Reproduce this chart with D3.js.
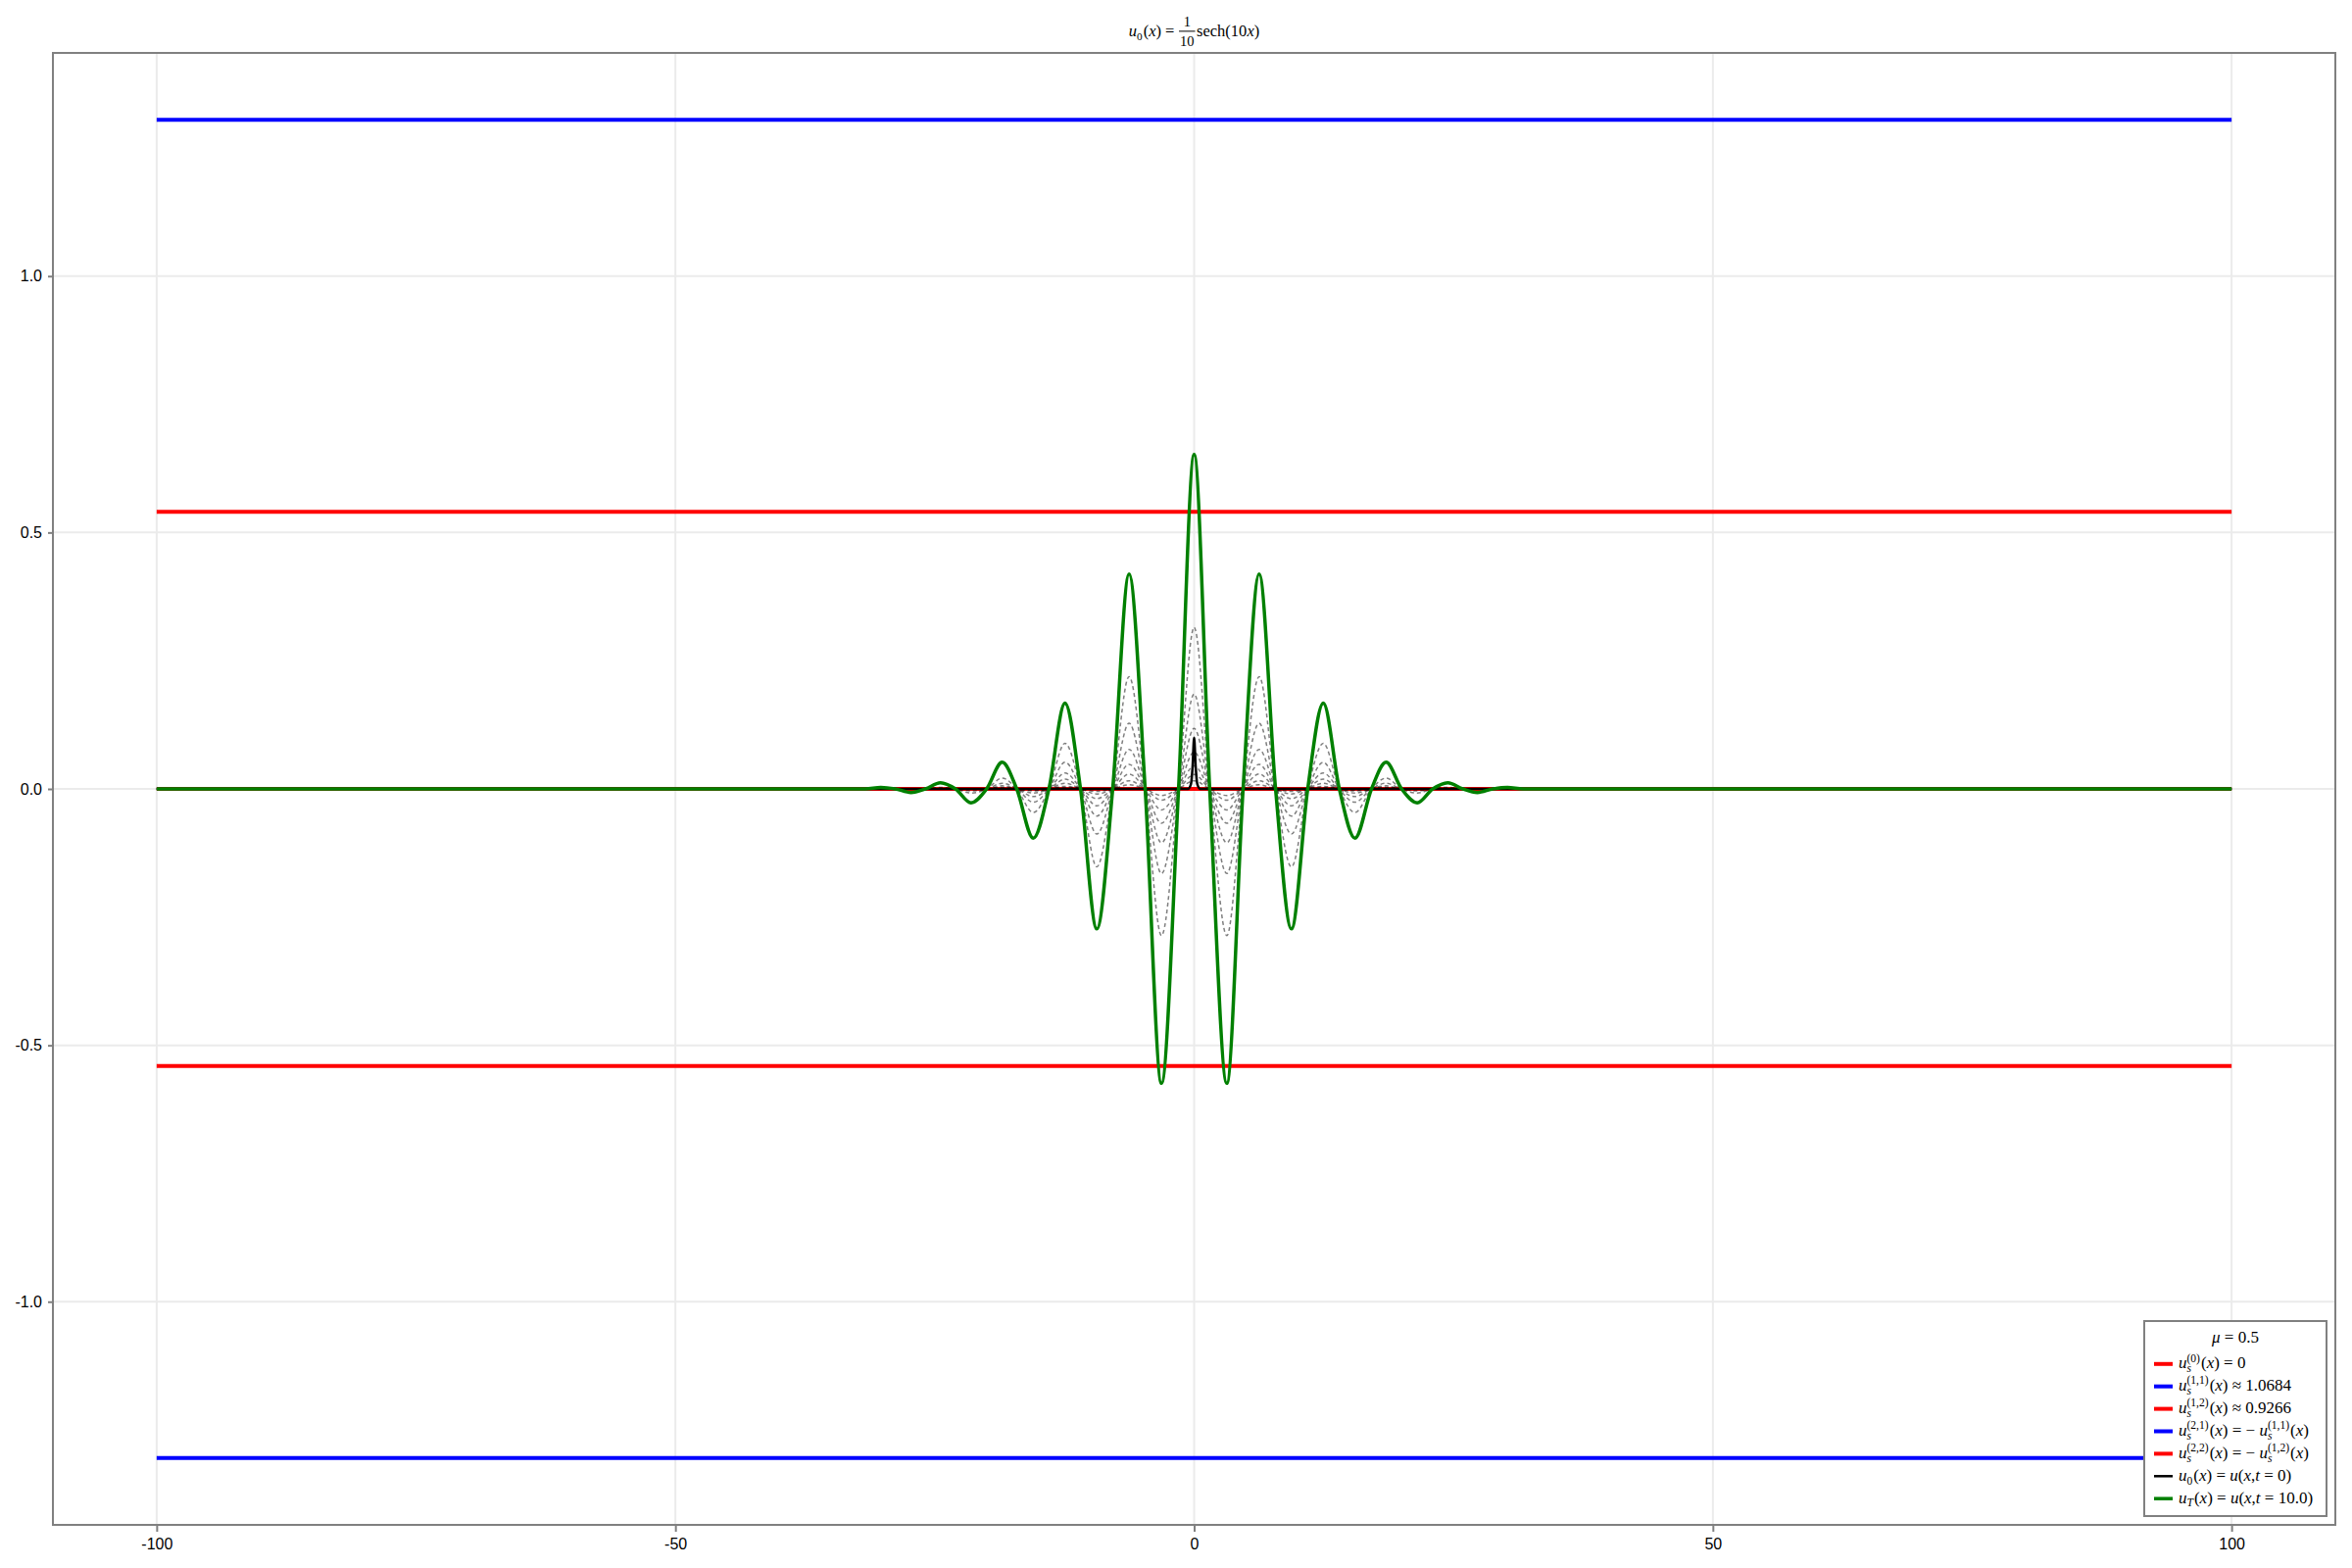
<!DOCTYPE html>
<html>
<head>
<meta charset="utf-8">
<script src="https://cdn.jsdelivr.net/npm/d3@7"></script>
<style>
  body { margin: 0; background: #fff; }
  svg { display: block; }
  .tick text { font-family: "Liberation Sans", Arial, sans-serif; font-size: 16px; fill: #000; }
  text { white-space: pre; }
</style>
</head>
<body>
<div id="chart"></div>
<script>
/// DATA (profiles are symmetric about x = 0) ///
// x of the extrema, centre outwards
const lobeX = [0, 3.15, 6.27, 9.38, 12.45, 15.5, 18.5, 21.5, 24.45, 27.3, 30.2];
// x of the zero crossings, centre outwards
const nodeX = [1.5, 4.72, 7.85, 10.95, 14.0, 17.1, 20.0, 23.0, 25.9, 28.8, 31.7];
const tailX = [33, 100];

// u_T(x) = u(x, t = 10) at the extrema
const uTProfile = [0.652, -0.574, 0.419, -0.273, 0.167, -0.096, 0.052, -0.027, 0.012, -0.007, 0.003];

// intermediate snapshots (grey dashed), largest first
const snap9 = [0.315, -0.286, 0.219, -0.152, 0.089, -0.046, 0.021, -0.008, 0.003, 0, 0];
const snap8 = [0.185, -0.165, 0.128, -0.088, 0.052, -0.026, 0.011, -0.004, 0, 0, 0];
const snap7 = [0.118, -0.105, 0.077, -0.053, 0.031, -0.015, 0.006, 0, 0, 0, 0];
const snap6 = [0.072, -0.067, 0.048, -0.033, 0.019, -0.008, 0.003, 0, 0, 0, 0];
const snap5 = [0.045, -0.041, 0.029, -0.019, 0.011, -0.004, 0, 0, 0, 0, 0];
const snap4 = [0.028, -0.022, 0.016, -0.010, 0.005, -0.002, 0, 0, 0, 0, 0];
const snap3 = [0.016, -0.013, 0.008, -0.005, 0.002, 0, 0, 0, 0, 0, 0];

// initial condition u0(x), narrow spike
const u0X = [-100, -0.6, -0.3, -0.15, 0, 0.15, 0.3, 0.6, 100];
const u0Y = [0, 0, 0.01, 0.043, 0.1, 0.043, 0.01, 0, 0];

// stationary solutions (horizontal lines)
const steadyLevels = [0, 1.3047, 0.5405, -1.3047, -0.5405];
const steadyColors = ["red", "blue", "red", "blue", "red"];
const lineRange = [-100, 100];

const xTicks = [-100, -50, 0, 50, 100];
const yTicks = [-1.0, -0.5, 0.0, 0.5, 1.0];

const W = 2400, H = 1600;
const margin = { left: 54, top: 54, right: 17, bottom: 44 };
const serif = '"Liberation Serif", "DejaVu Serif", serif';

// build a symmetric series from a centre-outwards profile
function buildSeries(profile) {
  const right = [];
  lobeX.forEach((x, i) => {
    right.push([x, profile[i]]);
    right.push([nodeX[i], 0]);
  });
  tailX.forEach((x) => right.push([x, 0]));
  const left = right.filter((d) => d[0] > 0).map((d) => [-d[0], d[1]]).reverse();
  return left.concat(right);
}

const svg = d3.select("#chart").append("svg").attr("width", W).attr("height", H);

const x = d3.scaleLinear().domain([-110, 110]).range([margin.left, W - margin.right]);
const y = d3.scaleLinear().domain([-1.4352, 1.4352]).range([H - margin.bottom, margin.top]);

const line = d3.line().x((d) => x(d[0])).y((d) => y(d[1])).curve(d3.curveMonotoneX);

// grid
const grid = svg.append("g").attr("stroke", "#ebebeb").attr("stroke-width", 2);
grid.selectAll(".gx").data(xTicks).enter().append("line")
  .attr("x1", (d) => x(d)).attr("x2", (d) => x(d))
  .attr("y1", margin.top).attr("y2", H - margin.bottom);
grid.selectAll(".gy").data(yTicks).enter().append("line")
  .attr("x1", margin.left).attr("x2", W - margin.right)
  .attr("y1", (d) => y(d)).attr("y2", (d) => y(d));

// horizontal stationary lines
svg.selectAll(".steady").data(steadyLevels).enter().append("path")
  .attr("class", "steady")
  .attr("d", (d) => line(lineRange.map((v) => [v, d])))
  .attr("fill", "none")
  .attr("stroke", (d, i) => steadyColors[i])
  .attr("stroke-width", 4);

// dashed intermediate snapshots
const snapshots = [snap3, snap4, snap5, snap6, snap7, snap8, snap9];
svg.selectAll(".snap").data(snapshots).enter().append("path")
  .attr("class", "snap")
  .attr("d", (d) => line(buildSeries(d)))
  .attr("fill", "none")
  .attr("stroke", "rgba(0,0,0,0.5)")
  .attr("stroke-width", 1.5)
  .attr("stroke-dasharray", "4,3");

// u0
svg.append("path")
  .attr("d", line(u0X.map((v, i) => [v, u0Y[i]])))
  .attr("fill", "none").attr("stroke", "black").attr("stroke-width", 2.5);

// uT
svg.append("path")
  .attr("d", line(buildSeries(uTProfile)))
  .attr("fill", "none").attr("stroke", "green").attr("stroke-width", 3.5);

// axes
const xAxis = svg.append("g")
  .attr("transform", `translate(0,${H - margin.bottom})`)
  .call(d3.axisBottom(x).tickValues(xTicks).tickSize(7).tickPadding(7).tickFormat((d) => String(d)));
const yAxis = svg.append("g")
  .attr("transform", `translate(${margin.left},0)`)
  .call(d3.axisLeft(y).tickValues(yTicks).tickSize(5).tickPadding(6).tickFormat((d) => d.toFixed(1)));
[xAxis, yAxis].forEach((a) => {
  a.select(".domain").remove();
  a.selectAll(".tick line").attr("stroke", "#808080").attr("stroke-width", 2);
});

// frame
svg.append("rect")
  .attr("x", margin.left).attr("y", margin.top)
  .attr("width", W - margin.left - margin.right)
  .attr("height", H - margin.top - margin.bottom)
  .attr("fill", "none").attr("stroke", "#808080").attr("stroke-width", 2);

// small math typesetter: strings are upright, {it} italic, {sup,sub} stacked scripts, {frac}
function drawMath(parent, px, py, tokens, size, anchor) {
  const g = parent.append("g");
  let cx = 0;
  const put = (str, dx, dy, fs, it, mid) => {
    const t = g.append("text")
      .attr("x", dx).attr("y", dy)
      .attr("font-family", serif).attr("font-size", fs)
      .attr("font-style", it ? "italic" : "normal")
      .attr("text-anchor", mid ? "middle" : "start")
      .text(str);
    return t.node().getComputedTextLength();
  };
  tokens.forEach((tk) => {
    if (typeof tk === "string") {
      cx += put(tk, cx, 0, size, false);
    } else if (tk.it) {
      cx += put(tk.it, cx, 0, size, true);
    } else if (tk.frac) {
      const fs = size * 0.88;
      const probe = g.append("text").attr("font-family", serif).attr("font-size", fs);
      const wn = probe.text(tk.frac[0]).node().getComputedTextLength();
      const wd = probe.text(tk.frac[1]).node().getComputedTextLength();
      probe.remove();
      const w = Math.max(wn, wd) + 3;
      put(tk.frac[0], cx + w / 2, -size * 0.58, fs, false, true);
      put(tk.frac[1], cx + w / 2, size * 0.62, fs, false, true);
      g.append("line").attr("x1", cx + 0.5).attr("x2", cx + w - 0.5)
        .attr("y1", -size * 0.31).attr("y2", -size * 0.31)
        .attr("stroke", "#000").attr("stroke-width", 1);
      cx += w + 1;
    } else {
      let w = 0;
      if (tk.sup) w = Math.max(w, put(tk.sup, cx, -size * 0.4, size * 0.68, false));
      if (tk.sub) w = Math.max(w, put(tk.sub, cx, size * 0.22, size * 0.68, tk.subIt));
      cx += w + 1;
    }
  });
  const shift = anchor === "middle" ? -cx / 2 : 0;
  g.attr("transform", `translate(${px + shift},${py})`);
  return cx;
}

// title
drawMath(svg, x(0), 37, [
  { it: "u" }, { sub: "0" }, "(", { it: "x" }, ") = ",
  { frac: ["1", "10"] }, "sech(10", { it: "x" }, ")"
], 16.5, "middle");

// legend
const legendLabels = [
  [{ it: "u" }, { sup: "(0)", sub: "s", subIt: true }, "(", { it: "x" }, ") = 0"],
  [{ it: "u" }, { sup: "(1,1)", sub: "s", subIt: true }, "(", { it: "x" }, ") \u2248 1.0684"],
  [{ it: "u" }, { sup: "(1,2)", sub: "s", subIt: true }, "(", { it: "x" }, ") \u2248 0.9266"],
  [{ it: "u" }, { sup: "(2,1)", sub: "s", subIt: true }, "(", { it: "x" }, ") = \u2212 ", { it: "u" }, { sup: "(1,1)", sub: "s", subIt: true }, "(", { it: "x" }, ")"],
  [{ it: "u" }, { sup: "(2,2)", sub: "s", subIt: true }, "(", { it: "x" }, ") = \u2212 ", { it: "u" }, { sup: "(1,2)", sub: "s", subIt: true }, "(", { it: "x" }, ")"],
  [{ it: "u" }, { sub: "0" }, "(", { it: "x" }, ") = ", { it: "u" }, "(", { it: "x" }, ",", { it: "t" }, " = 0)"],
  [{ it: "u" }, { sub: "T", subIt: true }, "(", { it: "x" }, ") = ", { it: "u" }, "(", { it: "x" }, ",", { it: "t" }, " = 10.0)"]
];
const legendColors = ["red", "blue", "red", "blue", "red", "black", "green"];
const legendWidths = [4, 4, 4, 4, 4, 2.5, 3.5];

const legend = svg.append("g").attr("transform", "translate(2188,1348)");
legend.append("rect")
  .attr("width", 186).attr("height", 199)
  .attr("fill", "#fff").attr("stroke", "#808080").attr("stroke-width", 2);
drawMath(legend, 93, 22, [{ it: "\u03bc" }, " = 0.5"], 17, "middle");

legendLabels.forEach((lab, i) => {
  const cy = 43.8 + i * 22.9;
  legend.append("line")
    .attr("x1", 10).attr("x2", 29).attr("y1", cy).attr("y2", cy)
    .attr("stroke", legendColors[i]).attr("stroke-width", legendWidths[i]);
  drawMath(legend, 35, cy + 4.5, lab, 17, "start");
});
</script>
</body>
</html>
